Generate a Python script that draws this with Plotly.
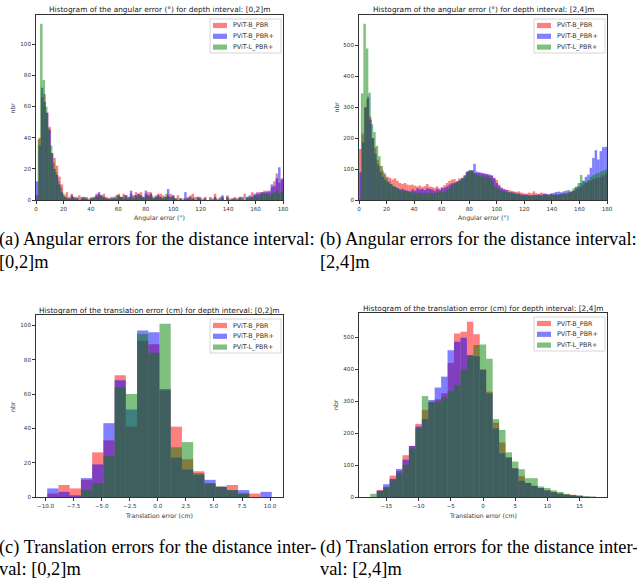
import plotly.graph_objects as go

W, H = 637, 581

SERIES = ["PViT-B_PBR", "PViT-B_PBR+", "PViT-L_PBR+"]
COLORS = ["rgba(255,0,0,0.5)", "rgba(0,0,255,0.5)", "rgba(0,128,0,0.5)"]

# ---------- angular error, depth [0,2] m : 100 bins between each series' min and 180 deg
ANG02_START = [0.0, 0.0, 1.2]
ANG02_PBR = [3, 40, 66, 68, 56, 47, 30, 27, 22, 15,
             10, 3, 5, 2, 4, 1, 2, 3, 2, 1,
             2, 1, 2, 1, 4, 4, 3, 4, 2, 1,
             2, 1, 3, 4, 2, 4, 3, 1, 4, 3,
             5, 4, 5, 2, 4, 5, 5, 2, 3, 4,
             4, 3, 2, 3, 4, 3, 1, 3, 1, 0,
             1, 2, 3, 4, 2, 1, 2, 0, 2, 0,
             2, 0, 4, 1, 0, 2, 0, 3, 1, 0,
             2, 1, 2, 0, 4, 1, 2, 5, 3, 5,
             4, 5, 6, 6, 5, 8, 12, 17, 11, 14]
ANG02_PBRP = [12, 35, 72, 63, 56, 45, 30, 20, 16, 10,
              5, 2, 1, 1, 3, 2, 1, 0, 1, 2,
              1, 0, 1, 2, 3, 5, 3, 2, 1, 1,
              1, 2, 1, 3, 2, 1, 3, 2, 6, 1,
              3, 4, 3, 2, 6, 3, 4, 1, 2, 3,
              2, 1, 2, 7, 2, 3, 1, 0, 1, 0,
              5, 1, 2, 1, 0, 2, 1, 0, 1, 0,
              0, 1, 2, 0, 1, 3, 0, 2, 0, 1,
              1, 0, 1, 2, 0, 2, 3, 2, 4, 4,
              5, 5, 5, 5, 6, 10, 9, 14, 21, 13]
ANG02_LPBRP = [39, 113, 77, 60, 46, 35, 24, 18, 12, 8,
               4, 2, 1, 1, 2, 1, 1, 0, 2, 1,
               0, 1, 1, 2, 2, 3, 2, 1, 1, 0,
               1, 1, 3, 2, 2, 3, 1, 2, 2, 3,
               2, 3, 2, 1, 3, 2, 3, 1, 2, 2,
               1, 2, 4, 2, 1, 2, 1, 0, 1, 1,
               0, 1, 0, 1, 0, 2, 0, 1, 0, 0,
               1, 0, 1, 0, 2, 1, 0, 1, 0, 1,
               0, 1, 2, 1, 0, 2, 1, 2, 3, 2,
               3, 4, 4, 4, 3, 4, 5, 6, 4, 5]

# ---------- angular error, depth [2,4] m
ANG24_START = [0.0, 0.3, 1.4]
ANG24_PBR = [165, 215, 300, 326, 270, 200, 170, 130, 110, 95,
             82, 75, 72, 66, 70, 62, 55, 52, 55, 50,
             48, 50, 46, 44, 47, 42, 45, 52, 44, 42,
             40, 44, 38, 42, 48, 55, 62, 66, 68, 60,
             70, 72, 75, 90, 95, 92, 88, 87, 87, 85,
             85, 83, 80, 78, 72, 65, 50, 40, 36, 33,
             32, 30, 28, 26, 28, 24, 22, 20, 24, 22,
             28, 22, 20, 24, 22, 20, 18, 19, 17, 18,
             18, 20, 22, 20, 24, 26, 30, 34, 38, 42,
             48, 55, 60, 62, 68, 70, 72, 75, 80, 85]
ANG24_PBRP = [90, 187, 300, 334, 260, 200, 150, 115, 90, 75,
              65, 58, 52, 45, 42, 38, 34, 36, 32, 30,
              28, 35, 30, 38, 34, 36, 32, 38, 36, 34,
              30, 36, 32, 38, 40, 44, 50, 54, 56, 60,
              64, 70, 80, 92, 95, 97, 117, 92, 90, 88,
              86, 84, 83, 80, 70, 55, 45, 38, 34, 32,
              25, 26, 22, 20, 21, 18, 17, 18, 16, 15,
              17, 16, 18, 17, 19, 20, 18, 22, 23, 26,
              27, 25, 28, 30, 32, 26, 30, 43, 45, 55,
              62, 75, 82, 104, 136, 161, 131, 158, 171, 172]
ANG24_LPBRP = [345, 570, 490, 347, 245, 220, 175, 142, 110, 88,
               72, 60, 52, 45, 40, 36, 32, 30, 28, 26,
               25, 24, 22, 24, 22, 23, 21, 22, 24, 22,
               23, 25, 27, 26, 30, 35, 42, 50, 56, 60,
               64, 70, 80, 92, 97, 95, 85, 80, 78, 76,
               76, 75, 70, 60, 43, 38, 32, 28, 26, 25,
               24, 22, 24, 20, 18, 16, 15, 14, 13, 15,
               14, 16, 15, 13, 15, 16, 15, 17, 16, 18,
               17, 18, 20, 22, 24, 30, 38, 40, 55, 81,
               62, 58, 65, 75, 80, 85, 88, 92, 95, 98]

# ---------- translation error (cm), depth [0,2] m : 20 bins of 1 cm
TR02_START, TR02_WIDTH = -9.85, 1.0
TR02_PBR = [2, 7, 5, 10, 26, 33, 71, 41, 91, 89, 62, 41, 22, 15, 8, 6, 7, 2, 2, 0]
TR02_PBRP = [5, 3, 1, 11, 19, 43, 68, 51, 97, 96, 63, 23, 16, 13, 10, 6, 4, 4, 0, 3]
TR02_LPBRP = [0, 0, 0, 4, 8, 24, 64, 60, 95, 84, 101, 29, 32, 14, 8, 6, 4, 2, 0, 0]

# ---------- translation error (cm), depth [2,4] m : 35 bins of 1 cm
TR24_START, TR24_WIDTH = -17.5, 1.0
TR24_PBR = [0, 22, 32, 67, 82, 131, 160, 229, 273, 298,
            306, 325, 420, 512, 518, 549, 510, 400, 330, 233,
            171, 122, 90, 65, 44, 35, 28, 21, 16, 12,
            8, 7, 5, 1, 0]
TR24_PBRP = [0, 20, 40, 57, 88, 117, 160, 221, 244, 304,
             343, 377, 460, 486, 499, 445, 441, 398, 325, 215,
             137, 125, 90, 51, 44, 35, 28, 21, 15, 10,
             7, 5, 3, 1, 0]
TR24_LPBRP = [10, 18, 30, 52, 75, 101, 152, 215, 316, 298,
              298, 312, 332, 351, 398, 441, 476, 478, 433, 244,
              210, 140, 111, 87, 59, 59, 33, 28, 21, 16,
              10, 6, 4, 2, 2]

TITLES = [
    "Histogram of the angular error (°) for depth interval: [0,2]m",
    "Histogram of the angular error (°) for depth interval: [2,4]m",
    "Histogram of the translation error (cm) for depth interval: [0,2]m",
    "Histogram of the translation error (cm) for depth interval: [2,4]m",
]
XLABELS = ["Angular error (°)", "Angular error (°)",
           "Translation error (cm)", "Translation error (cm)"]
YLABEL = "nbr"
CAPTIONS = [
    ("(a) Angular errors for the distance interval:", "[0,2]m"),
    ("(b) Angular errors for the distance interval:", "[2,4]m"),
    ("(c) Translation errors for the distance inter-", "val: [0,2]m"),
    ("(d) Translation errors for the distance inter-", "val: [2,4]m"),
]

# panel boxes in pixels: left, right, top, bottom
BOXES = [(36, 283, 15, 200), (359, 607, 15, 200),
         (36, 283, 315, 497), (359, 607, 313, 497)]
CAPTION_POS = [(-3, 240, 262), (318, 240, 262), (-3, 547, 569), (318, 547, 569)]

FONT = "DejaVu Sans"
INK = "#333333"


def px(x):
    return x / W


def py(y):
    return 1 - y / H


def series_bins(starts, widths, counts):
    out = []
    for s, w, c in zip(starts, widths, counts):
        out.append(([s + w * (i + 0.5) for i in range(len(c))], [w] * len(c), c))
    return out


panels = []
# (a)
widths = [(180 - s) / len(ANG02_PBR) for s in ANG02_START]
panels.append(dict(bins=series_bins(ANG02_START, widths, [ANG02_PBR, ANG02_PBRP, ANG02_LPBRP]),
                   xrange=[0, 180], dtick=20, fmt="d"))
# (b)
widths = [(180 - s) / len(ANG24_PBR) for s in ANG24_START]
panels.append(dict(bins=series_bins(ANG24_START, widths, [ANG24_PBR, ANG24_PBRP, ANG24_LPBRP]),
                   xrange=[0, 180], dtick=20, fmt="d"))
# (c)
panels.append(dict(bins=series_bins([TR02_START] * 3, [TR02_WIDTH] * 3, [TR02_PBR, TR02_PBRP, TR02_LPBRP]),
                   xrange=None, dtick=2.5, fmt=".1f"))
# (d)
panels.append(dict(bins=series_bins([TR24_START] * 3, [TR24_WIDTH] * 3, [TR24_PBR, TR24_PBRP, TR24_LPBRP]),
                   xrange=None, dtick=5, fmt="d"))

fig = go.Figure()
annotations = []
shapes = []
layout_axes = {}

for k, (panel, box) in enumerate(zip(panels, BOXES)):
    left, right, top, bottom = box
    sfx = "" if k == 0 else str(k + 1)
    xa, ya = "x" + sfx, "y" + sfx
    ymax = 0
    lo, hi = float("inf"), float("-inf")
    for (centers, ws, counts), color, name in zip(panel["bins"], COLORS, SERIES):
        fig.add_trace(go.Bar(x=centers, y=counts, width=ws, name=name,
                             marker=dict(color=color, line=dict(width=0)),
                             xaxis=xa, yaxis=ya, showlegend=False))
        ymax = max(ymax, max(counts))
        lo = min(lo, centers[0] - ws[0] / 2)
        hi = max(hi, centers[-1] + ws[-1] / 2)
    if panel["xrange"] is None:
        pad = 0.05 * (hi - lo)
        xr = [lo - pad, hi + pad]
    else:
        xr = panel["xrange"]
    yr = [0, ymax * 1.05]

    axis_common = dict(showline=True, mirror=True, linecolor=INK, linewidth=0.8,
                       ticks="outside", ticklen=3, tickwidth=0.8, tickcolor=INK,
                       showgrid=False, zeroline=False,
                       tickfont=dict(family=FONT, size=5.6, color=INK))
    layout_axes["xaxis" + sfx] = dict(axis_common, domain=[px(left), px(right)], range=xr,
                                      anchor=ya, tick0=0, dtick=panel["dtick"],
                                      tickformat=panel["fmt"])
    layout_axes["yaxis" + sfx] = dict(axis_common, domain=[py(bottom), py(top)], range=yr,
                                      anchor=xa, tick0=0,
                                      dtick=20 if ymax < 200 else 100)

    cx = (left + right) / 2
    # title
    annotations.append(dict(text=TITLES[k], x=px(cx), y=py(top - 5), xref="paper", yref="paper",
                            xanchor="center", yanchor="middle", showarrow=False,
                            font=dict(family=FONT, size=7.4, color="#222")))
    # axis labels
    annotations.append(dict(text=XLABELS[k], x=px(cx), y=py(bottom + 18), xref="paper", yref="paper",
                            xanchor="center", yanchor="middle", showarrow=False,
                            font=dict(family=FONT, size=6.2, color=INK)))
    ylab_x = 12 if left < 100 else 336
    annotations.append(dict(text=YLABEL, x=px(ylab_x), y=py((top + bottom) / 2), xref="paper",
                            yref="paper", xanchor="center", yanchor="middle", textangle=-90,
                            showarrow=False, font=dict(family=FONT, size=6.2, color=INK)))

    # legend box in the upper right corner of each panel
    shapes.append(dict(type="rect", xref="paper", yref="paper",
                       x0=px(right - 73), x1=px(right - 2), y0=py(top + 4), y1=py(top + 38),
                       line=dict(color="#cccccc", width=0.8), fillcolor="rgba(255,255,255,0.8)",
                       layer="above"))
    for j, (name, color) in enumerate(zip(SERIES, COLORS)):
        yc = top + 10.5 + j * 10.8
        shapes.append(dict(type="rect", xref="paper", yref="paper",
                           x0=px(right - 70), x1=px(right - 56), y0=py(yc + 2.6), y1=py(yc - 2.6),
                           line=dict(width=0), fillcolor=color, layer="above"))
        annotations.append(dict(text=name, x=px(right - 52), y=py(yc), xref="paper", yref="paper",
                                xanchor="left", yanchor="middle", showarrow=False,
                                font=dict(family=FONT, size=6.4, color=INK)))

    # sub-figure caption
    cxp, y1, y2 = CAPTION_POS[k]
    for text, yy in zip(CAPTIONS[k], (y1, y2)):
        annotations.append(dict(text=text, x=px(cxp), y=py(yy), xref="paper", yref="paper",
                                xanchor="left", yanchor="middle", showarrow=False,
                                font=dict(family="Liberation Serif", size=18.4, color="black")))

fig.update_layout(
    width=W, height=H, margin=dict(l=0, r=0, t=0, b=0),
    template="none", paper_bgcolor="white", plot_bgcolor="white",
    barmode="overlay", showlegend=False,
    annotations=annotations, shapes=shapes,
    **layout_axes,
)

fig.write_html("out.html")
